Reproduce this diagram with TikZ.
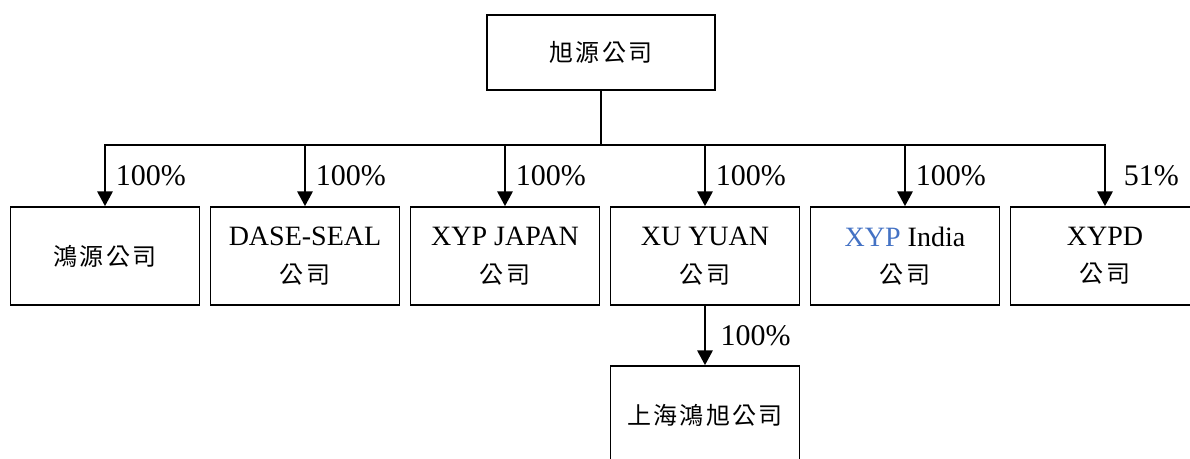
\documentclass[tikz,border=0pt]{standalone}
\usepackage{fontspec}
\setmainfont{Liberation Serif}
\newfontfamily\cjk[LetterSpace=10]{Noto Sans CJK TC}
\usetikzlibrary{arrows.meta}
\definecolor{xypblue}{HTML}{4472C4}
\tikzset{
  company/.style={draw, line width=1.3pt, inner sep=0pt, align=center,
    minimum width=141.75pt, minimum height=73.5pt,
    font=\fontsize{21}{28}\selectfont},
  topco/.style={company, minimum width=171pt, minimum height=56.25pt},
  link/.style={line width=1.3pt},
  own/.style={link, -{Triangle[width=11.5pt,length=11pt]}},
  pct/.style={inner sep=0pt, anchor=west, font=\fontsize{22.5}{26}\selectfont},
}
\newcommand{\zh}[1]{{\cjk\fontsize{18}{28}\selectfont #1}}
\begin{document}
\begin{tikzpicture}[x=0.75pt,y=-0.75pt]
\useasboundingbox (0,0) rectangle (1190,459);
\clip (0,0) rectangle (1190,459);
\node[topco] (top) at (601,52.5) {\zh{旭源公司}};
\node[company] (c1) at (105,256) {\zh{鴻源公司}};
\node[company] (c2) at (305,256) {DASE-SEAL\\\zh{公司}};
\node[company] (c3) at (505,256) {XYP JAPAN\\\zh{公司}};
\node[company] (c4) at (705,256) {XU YUAN\\\zh{公司}};
\node[company] (c5) at (905,256) {\textcolor{xypblue}{XYP} India\\\zh{公司}};
\node[company] (c6) at (1105,256) {XYPD\\\zh{公司}};
\node[company] (c7) at (705,415) {\zh{上海鴻旭公司}};
\coordinate (hub) at (601,145);
\coordinate (b1) at (105,145);
\coordinate (b2) at (305,145);
\coordinate (b3) at (505,145);
\coordinate (b4) at (705,145);
\coordinate (b5) at (905,145);
\coordinate (b6) at (1105,145);
\draw[link] (top.south) -- (hub);
\draw[link] ([xshift=-0.65pt]b1) -- ([xshift=0.65pt]b6);
\draw[own] (b1) -- (c1.north) node[pct, pos=0.5, xshift=7.5pt] {100\%};
\draw[own] (b2) -- (c2.north) node[pct, pos=0.5, xshift=7.5pt] {100\%};
\draw[own] (b3) -- (c3.north) node[pct, pos=0.5, xshift=7.5pt] {100\%};
\draw[own] (b4) -- (c4.north) node[pct, pos=0.5, xshift=7.5pt] {100\%};
\draw[own] (b5) -- (c5.north) node[pct, pos=0.5, xshift=7.5pt] {100\%};
\draw[own] (b6) -- (c6.north) node[pct, pos=0.5, xshift=13.5pt] {51\%};
\draw[own] (c4.south) -- (c7.north) node[pct, pos=0.5, xshift=11pt] {100\%};
\end{tikzpicture}
\end{document}
